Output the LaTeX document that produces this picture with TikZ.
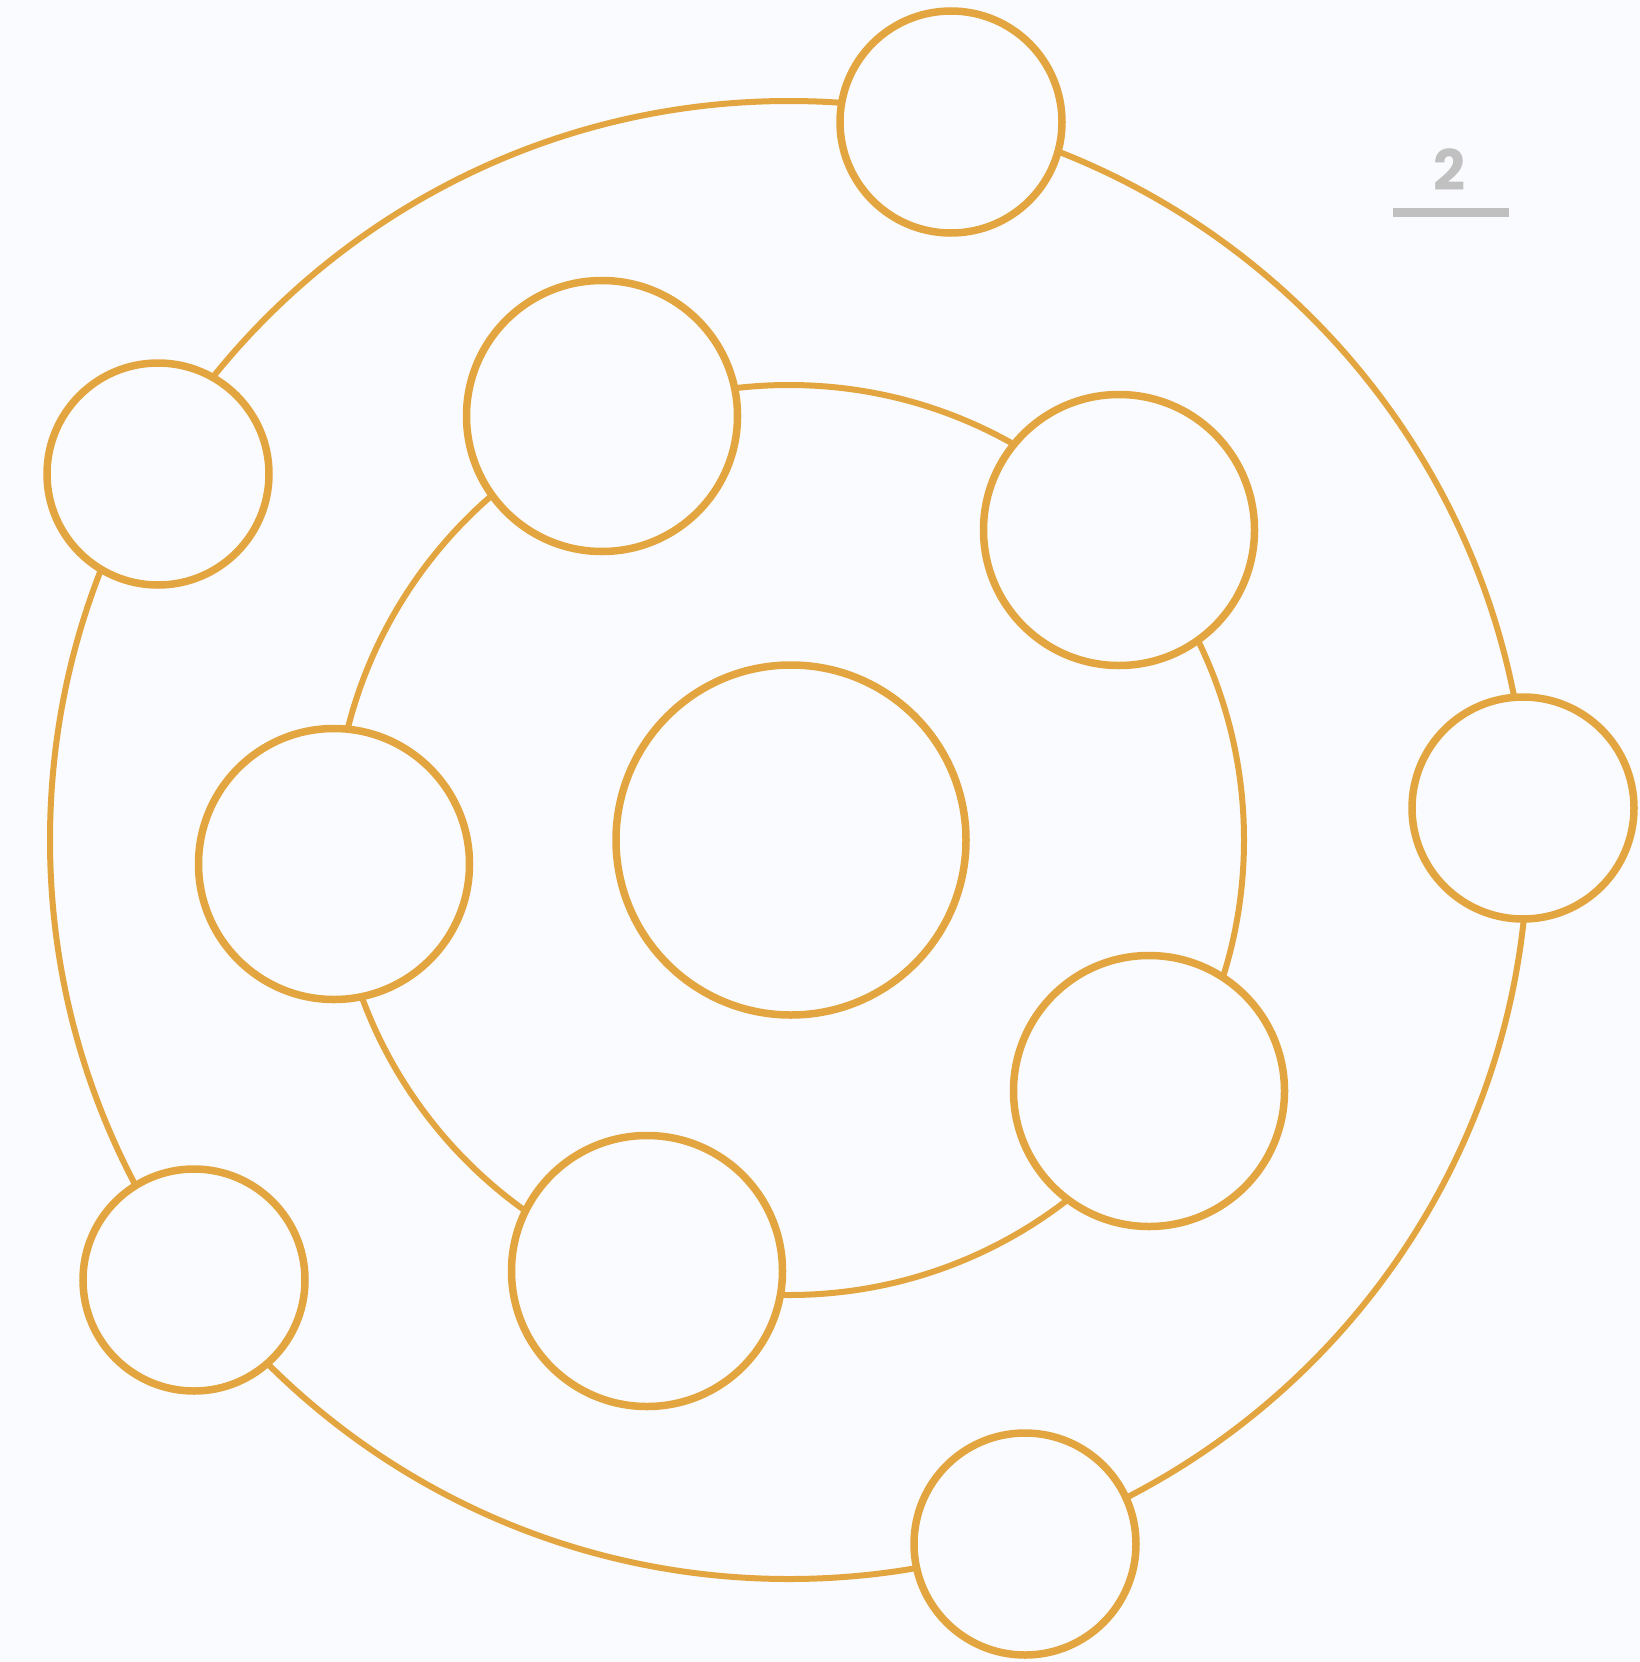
\documentclass[tikz,border=0pt]{standalone}
\usepackage{fontspec}
\newfontfamily\numfont{Poppins}
\definecolor{bg}{HTML}{FAFBFE}
\definecolor{gold}{HTML}{E3A540}
\definecolor{greytxt}{HTML}{C0C0C0}
\tikzset{
  ring/.style={draw=gold, line width=6pt},
  sat/.style={circle, draw=gold, fill=bg, line width=7.5pt, inner sep=0pt},
  small/.style={sat, minimum size=222pt},
  mid/.style={sat, minimum size=271pt},
  core/.style={sat, minimum size=350pt},
}
\begin{document}
\begin{tikzpicture}[x=1pt,y=-1pt]
\fill[bg] (0,0) rectangle (1640,1662);
\useasboundingbox (0,0) rectangle (1640,1662);
\coordinate (c) at (789,840);
\draw[ring] (c) circle[radius=739];
\draw[ring] (c) circle[radius=455];
\node[core] (center) at (791,840) {};
% inner satellites
\node[mid] (i1) at (602,416) {};
\node[mid] (i2) at (1119,530) {};
\node[mid] (i3) at (334,864) {};
\node[mid] (i4) at (1149,1091) {};
\node[mid] (i5) at (647,1271) {};
% outer satellites
\node[small] (o1) at (951,122) {};
\node[small] (o2) at (158,474) {};
\node[small] (o3) at (1523,808) {};
\node[small] (o4) at (194,1280) {};
\node[small] (o5) at (1025,1544) {};
% label
\node[text=greytxt, font=\numfont\bfseries\fontsize{56}{56}\selectfont, inner sep=0pt] (num) at (1449,170) {2};
\coordinate (ul) at (1393,212);
\coordinate (ur) at (1509,212);
\draw[greytxt, line width=9pt] (ul) -- (ur);
\end{tikzpicture}
\end{document}
